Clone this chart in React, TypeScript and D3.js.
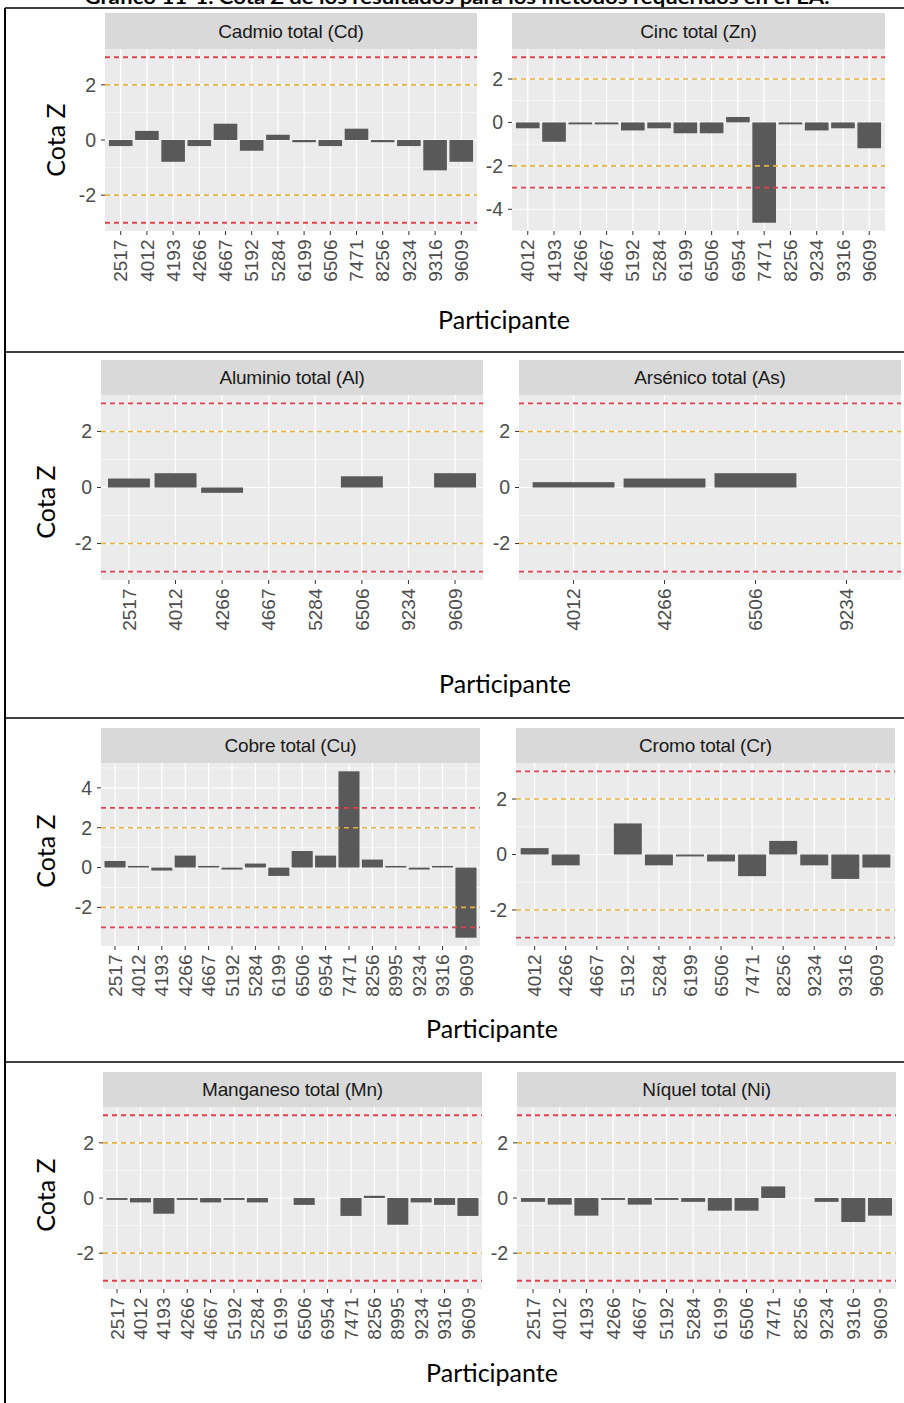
import React from "react";
import * as d3 from "d3";

// ---- Text ----
const TITLE = "Gráfico 11-1. Cota Z de los resultados para los métodos requeridos en el EA.";
const Y_TITLE = "Cota Z";
const X_TITLE = "Participante";

// ---- Data: z-scores per participant (null = no result reported) ----
const cdParticipants = ["2517", "4012", "4193", "4266", "4667", "5192", "5284", "6199", "6506", "7471", "8256", "9234", "9316", "9609"];
const cdZ = [-0.22, 0.33, -0.79, -0.22, 0.59, -0.39, 0.19, -0.08, -0.22, 0.41, -0.08, -0.22, -1.1, -0.79];

const znParticipants = ["4012", "4193", "4266", "4667", "5192", "5284", "6199", "6506", "6954", "7471", "8256", "9234", "9316", "9609"];
const znZ = [-0.27, -0.89, -0.09, -0.09, -0.37, -0.27, -0.5, -0.5, 0.25, -4.62, -0.09, -0.37, -0.27, -1.19];

const alParticipants = ["2517", "4012", "4266", "4667", "5284", "6506", "9234", "9609"];
const alZ = [0.32, 0.51, -0.19, null, null, 0.4, null, 0.51];

const asParticipants = ["4012", "4266", "6506", "9234"];
const asZ = [0.19, 0.32, 0.51, null];

const cuParticipants = ["2517", "4012", "4193", "4266", "4667", "5192", "5284", "6199", "6506", "6954", "7471", "8256", "8995", "9234", "9316", "9609"];
const cuZ = [0.33, 0.08, -0.15, 0.6, 0.08, -0.1, 0.2, -0.42, 0.83, 0.6, 4.83, 0.4, 0.08, -0.1, 0.08, -3.52];

const crParticipants = ["4012", "4266", "4667", "5192", "5284", "6199", "6506", "7471", "8256", "9234", "9316", "9609"];
const crZ = [0.23, -0.39, null, 1.12, -0.39, -0.07, -0.25, -0.78, 0.49, -0.39, -0.88, -0.47];

const mnParticipants = ["2517", "4012", "4193", "4266", "4667", "5192", "5284", "6199", "6506", "6954", "7471", "8256", "8995", "9234", "9316", "9609"];
const mnZ = [-0.07, -0.16, -0.57, -0.07, -0.16, -0.07, -0.16, null, -0.25, null, -0.65, 0.08, -0.97, -0.16, -0.25, -0.65];

const niParticipants = ["2517", "4012", "4193", "4266", "4667", "5192", "5284", "6199", "6506", "7471", "8256", "9234", "9316", "9609"];
const niZ = [-0.14, -0.24, -0.64, -0.07, -0.24, -0.07, -0.14, -0.46, -0.46, 0.42, null, -0.14, -0.87, -0.64];

// Warning / action limits
const warnLimits = [-2, 2];
const actionLimits = [-3, 3];

// ---- Styling ----
const PANEL_BG = "#ebebeb";
const STRIP_BG = "#d9d9d9";
const BAR_FILL = "#595959";
const RED = "#e3404d";
const ORANGE = "#e6b13a";
const AXIS_TEXT = "#4d4d4d";
const TICK_COLOR = "#333333";
const SANS = "'Liberation Sans', Arial, Helvetica, sans-serif";
const HUMANIST = "Lato, 'Open Sans', sans-serif";

type PanelSpec = {
  title: string;
  cats: string[];
  z: (number | null)[];
  x0: number;
  x1: number;
};

type RowSpec = {
  stripTop: number;
  panelTop: number;
  panelBottom: number;
  panels: PanelSpec[];
  yTitleX: number;
  yTitleY: number;
  xTitleX: number;
  xTitleY: number;
};

const rows: RowSpec[] = [
  {
    stripTop: 13, panelTop: 49, panelBottom: 231,
    yTitleX: 65, yTitleY: 140, xTitleX: 504, xTitleY: 329,
    panels: [
      { title: "Cadmio total (Cd)", cats: cdParticipants, z: cdZ, x0: 105, x1: 477 },
      { title: "Cinc total (Zn)", cats: znParticipants, z: znZ, x0: 512, x1: 885 },
    ],
  },
  {
    stripTop: 360, panelTop: 395, panelBottom: 580,
    yTitleX: 55, yTitleY: 502, xTitleX: 505, xTitleY: 693,
    panels: [
      { title: "Aluminio total (Al)", cats: alParticipants, z: alZ, x0: 101, x1: 483 },
      { title: "Arsénico total (As)", cats: asParticipants, z: asZ, x0: 519, x1: 901 },
    ],
  },
  {
    stripTop: 728, panelTop: 763, panelBottom: 946,
    yTitleX: 55, yTitleY: 851, xTitleX: 492, xTitleY: 1038,
    panels: [
      { title: "Cobre total (Cu)", cats: cuParticipants, z: cuZ, x0: 101, x1: 480 },
      { title: "Cromo total (Cr)", cats: crParticipants, z: crZ, x0: 516, x1: 895 },
    ],
  },
  {
    stripTop: 1072, panelTop: 1107, panelBottom: 1289,
    yTitleX: 55, yTitleY: 1195, xTitleX: 492, xTitleY: 1382,
    panels: [
      { title: "Manganeso total (Mn)", cats: mnParticipants, z: mnZ, x0: 103, x1: 482 },
      { title: "Níquel total (Ni)", cats: niParticipants, z: niZ, x0: 517, x1: 896 },
    ],
  },
];

const tableLines = [8, 352, 718, 1062];

function FacetPanel({ p, row }: { p: PanelSpec; row: RowSpec }) {
  const vals = p.z.filter((v): v is number => v != null);
  const lo = Math.min(actionLimits[0], 0, ...vals);
  const hi = Math.max(actionLimits[1], 0, ...vals);
  const pad = (hi - lo) * 0.05;

  const y = d3.scaleLinear().domain([lo - pad, hi + pad]).range([row.panelBottom, row.panelTop]);
  const x = d3
    .scaleBand<string>()
    .domain(p.cats)
    .range([p.x0, p.x1])
    .paddingInner(0.1)
    .paddingOuter(0.15);

  const [d0, d1] = y.domain();
  const ints = d3.range(Math.ceil(d0), Math.floor(d1) + 1);
  const major = ints.filter((v) => v % 2 === 0);
  const minor = ints.filter((v) => Math.abs(v % 2) === 1);
  const cx = (c: string) => (x(c) ?? 0) + x.bandwidth() / 2;
  const w = p.x1 - p.x0;

  return (
    <g>
      {/* strip */}
      <rect x={p.x0} y={row.stripTop} width={w} height={row.panelTop - row.stripTop} fill={STRIP_BG} />
      <text
        x={(p.x0 + p.x1) / 2}
        y={(row.stripTop + row.panelTop) / 2}
        dy="0.35em"
        textAnchor="middle"
        fontFamily={SANS}
        fontSize={19}
        fill="#1a1a1a"
        letterSpacing={-0.2}
      >
        {p.title}
      </text>

      {/* panel background and grid */}
      <rect x={p.x0} y={row.panelTop} width={w} height={row.panelBottom - row.panelTop} fill={PANEL_BG} />
      {minor.map((v) => (
        <line key={"mi" + v} x1={p.x0} x2={p.x1} y1={y(v)} y2={y(v)} stroke="#fff" strokeWidth={0.6} />
      ))}
      {major.map((v) => (
        <line key={"ma" + v} x1={p.x0} x2={p.x1} y1={y(v)} y2={y(v)} stroke="#fff" strokeWidth={1.2} />
      ))}
      {p.cats.map((c) => (
        <line key={"vg" + c} x1={cx(c)} x2={cx(c)} y1={row.panelTop} y2={row.panelBottom} stroke="#fff" strokeWidth={1.2} />
      ))}

      {/* bars */}
      {p.cats.map((c, i) => {
        const v = p.z[i];
        if (v == null) return null;
        const yTop = y(Math.max(0, v));
        const yBot = y(Math.min(0, v));
        return (
          <rect key={"b" + c} x={x(c)} y={yTop} width={x.bandwidth()} height={Math.max(yBot - yTop, 0.8)} fill={BAR_FILL} />
        );
      })}

      {/* limit lines */}
      {warnLimits.map((v) => (
        <line key={"w" + v} x1={p.x0} x2={p.x1} y1={y(v)} y2={y(v)} stroke={ORANGE} strokeWidth={1.6} strokeDasharray="5,4" />
      ))}
      {actionLimits.map((v) => (
        <line key={"a" + v} x1={p.x0} x2={p.x1} y1={y(v)} y2={y(v)} stroke={RED} strokeWidth={1.8} strokeDasharray="5,4" />
      ))}

      {/* y axis */}
      {major.map((v) => (
        <g key={"yt" + v}>
          <line x1={p.x0 - 4} x2={p.x0} y1={y(v)} y2={y(v)} stroke={TICK_COLOR} strokeWidth={1} />
          <text x={p.x0 - 9} y={y(v)} dy="0.35em" textAnchor="end" fontFamily={SANS} fontSize={19.5} fill={AXIS_TEXT}>
            {v}
          </text>
        </g>
      ))}

      {/* x axis */}
      {p.cats.map((c) => (
        <g key={"xt" + c}>
          <line x1={cx(c)} x2={cx(c)} y1={row.panelBottom} y2={row.panelBottom + 4} stroke={TICK_COLOR} strokeWidth={1} />
          <text
            transform={`translate(${cx(c)},${row.panelBottom + 8.5}) rotate(-90)`}
            dy="0.35em"
            textAnchor="end"
            fontFamily={SANS}
            fontSize={19}
            fill={AXIS_TEXT}
          >
            {c}
          </text>
        </g>
      ))}
    </g>
  );
}

export default function App() {
  return (
    <>
      <style>{"body{margin:0}"}</style>
      <svg width={904} height={1403} style={{ display: "block", background: "#fff" }}>
        {/* heading, partly above the top edge */}
        <text
          x={457}
          y={4}
          textAnchor="middle"
          fontFamily={HUMANIST}
          fontWeight="bold"
          fontSize={18}
          textLength={745}
          lengthAdjust="spacingAndGlyphs"
          fill="#000"
        >
          {TITLE}
        </text>

        {/* table frame */}
        {tableLines.map((ly) => (
          <line key={"tl" + ly} x1={5} x2={904} y1={ly} y2={ly} stroke="#000" strokeWidth={1.6} />
        ))}
        <line x1={5} x2={5} y1={8} y2={1403} stroke="#000" strokeWidth={2} />

        {rows.map((row, ri) => (
          <g key={"row" + ri}>
            {row.panels.map((p) => (
              <FacetPanel key={p.title} p={p} row={row} />
            ))}
            <text
              transform={`translate(${row.yTitleX},${row.yTitleY}) rotate(-90)`}
              textAnchor="middle"
              fontFamily={HUMANIST}
              fontSize={25}
              fill="#000"
            >
              {Y_TITLE}
            </text>
            <text x={row.xTitleX} y={row.xTitleY} textAnchor="middle" fontFamily={HUMANIST} fontSize={25} fill="#000">
              {X_TITLE}
            </text>
          </g>
        ))}
      </svg>
    </>
  );
}
